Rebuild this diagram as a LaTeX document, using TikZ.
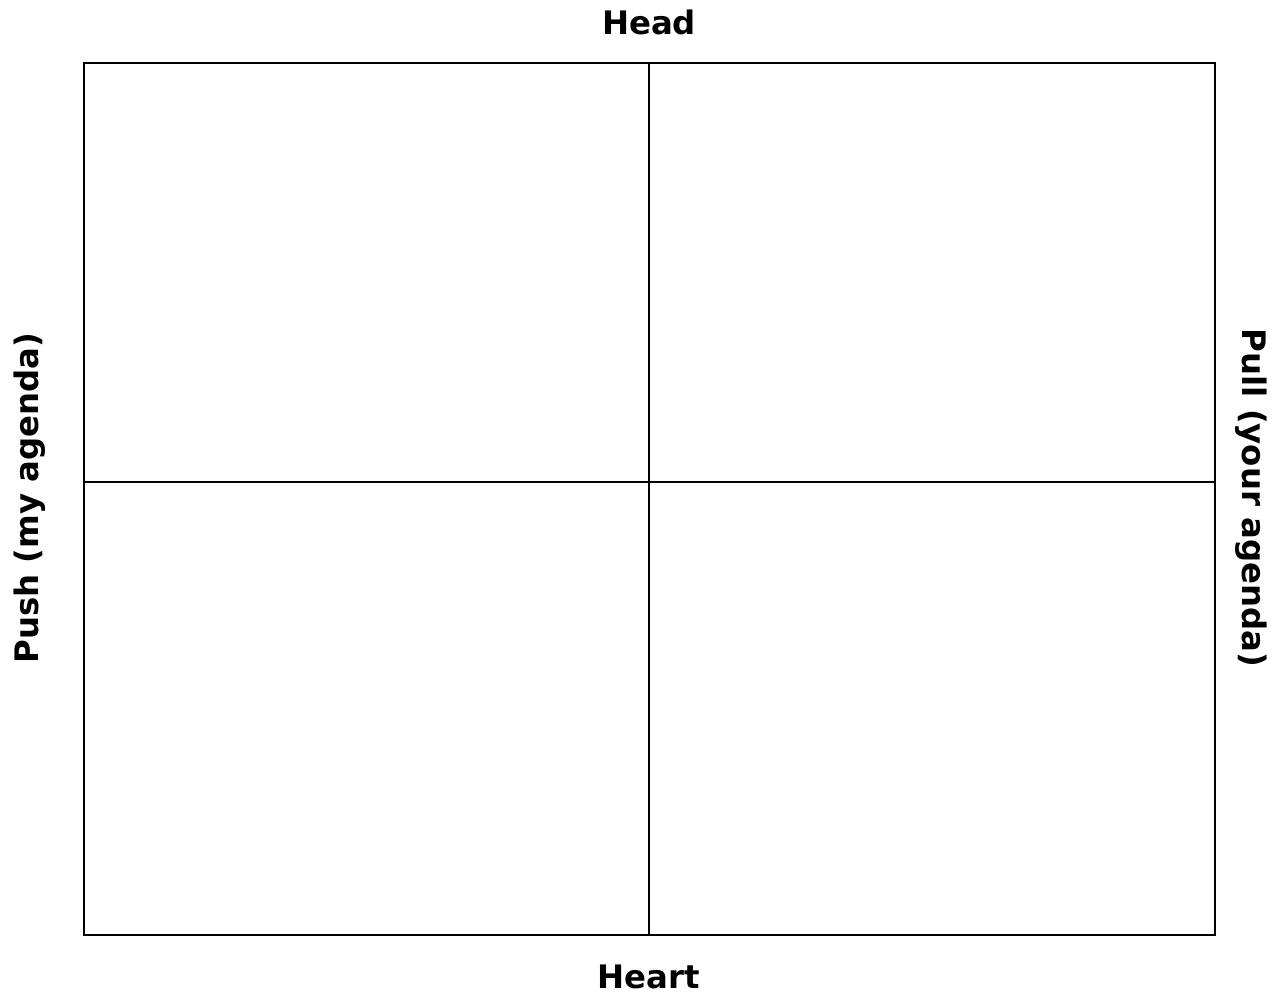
\documentclass[tikz,border=0pt]{standalone}
\usepackage{fontspec}
\setmainfont{DejaVu Sans}
\begin{document}
\begin{tikzpicture}[x=0.01cm,y=-0.01cm,
  grid/.style={draw=black,line width=0.6pt},
  axislabel/.style={font=\bfseries\fontsize{9.2}{11}\selectfont,inner sep=0pt}]
\useasboundingbox (0,0) rectangle (1278,995);
\coordinate (tl) at (84,63);
\coordinate (br) at (1215,935);
\coordinate (tm) at (649,63);
\coordinate (bm) at (649,935);
\coordinate (lm) at (84,482);
\coordinate (rm) at (1215,482);
\draw[grid] (tl) rectangle (br);
\draw[grid] (tm) -- (bm);
\draw[grid] (lm) -- (rm);
\node[axislabel] (head) at (649,22) {Head};
\node[axislabel] (heart) at (649,977) {Heart};
\node[axislabel,rotate=90] (push) at (30,498) {Push (my agenda)};
\node[axislabel,rotate=-90] (pull) at (1251,498) {Pull (your agenda)};
\end{tikzpicture}
\end{document}
